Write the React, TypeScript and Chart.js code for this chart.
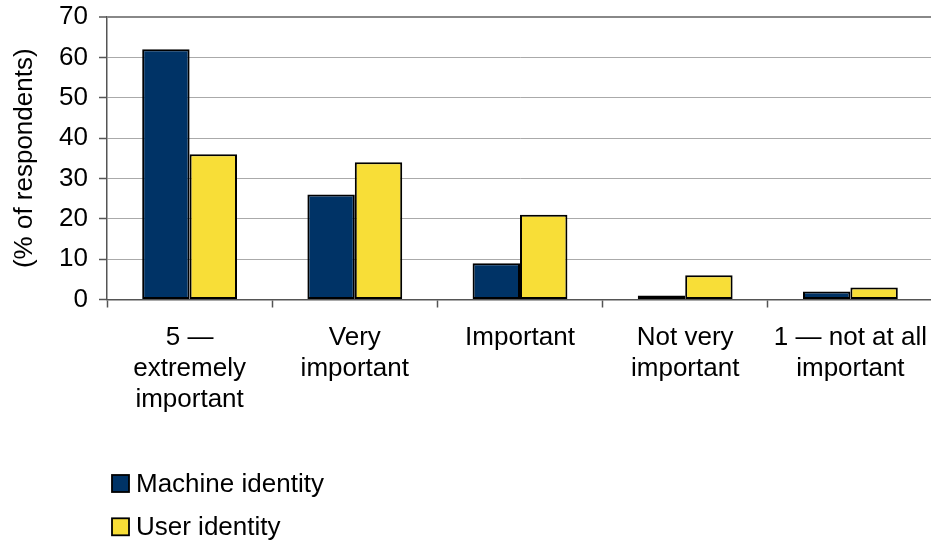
import React, { useEffect, useRef } from "react";
import { Chart, registerables } from "chart.js";

Chart.register(...registerables);

// Survey responses: importance rating, share of respondents (%)
const categories: string[][] = [
  ["5 \u2014", "extremely", "important"],
  ["Very", "important"],
  ["Important"],
  ["Not very", "important"],
  ["1 \u2014 not at all", "important"],
];
const machineIdentity = [62, 26, 9, 1, 2];
const userIdentity = [36, 34, 21, 6, 3];
const seriesNames = ["Machine identity", "User identity"];
const yTicks = { min: 0, max: 70, step: 10 };
const yTitle = "(% of respondents)";

const FONT = "'Liberation Sans', Arial, Helvetica, sans-serif";
const NAVY = "#003366";
const YELLOW = "#F8DE37";

// Stacked legend drawn under the plot, one series per row
const stackedLegend = {
  id: "stackedLegend",
  afterDraw(chart: Chart) {
    const { ctx } = chart;
    ctx.save();
    ctx.font = `26px ${FONT}`;
    ctx.textBaseline = "alphabetic";
    ctx.textAlign = "left";
    chart.data.datasets.forEach((ds: any, i: number) => {
      const boxX = 112;
      const boxY = 475 + i * 43.3;
      ctx.fillStyle = ds.backgroundColor;
      ctx.fillRect(boxX, boxY, 17, 17);
      ctx.strokeStyle = "#000";
      ctx.lineWidth = 1.8;
      ctx.strokeRect(boxX, boxY, 17, 17);
      ctx.fillStyle = "#000";
      ctx.fillText(ds.label, 136, boxY + 17);
    });
    ctx.restore();
  },
};

export default function App() {
  const canvasRef = useRef<HTMLCanvasElement | null>(null);

  useEffect(() => {
    if (!canvasRef.current) return;
    const chart = new Chart(canvasRef.current, {
      type: "bar",
      data: {
        labels: categories,
        datasets: [
          {
            label: seriesNames[0],
            data: machineIdentity,
            backgroundColor: NAVY,
            borderColor: "#000",
            borderWidth: 2,
            borderSkipped: false,
          },
          {
            label: seriesNames[1],
            data: userIdentity,
            backgroundColor: YELLOW,
            borderColor: "#000",
            borderWidth: 2,
            borderSkipped: false,
          },
        ],
      },
      options: {
        responsive: false,
        animation: false,
        devicePixelRatio: 1,
        categoryPercentage: 0.574,
        barPercentage: 1,
        layout: { padding: { left: 0, right: 3, top: 17, bottom: 125 } },
        plugins: {
          legend: { display: false },
          tooltip: { enabled: false },
        },
        scales: {
          x: {
            offset: true,
            afterFit: (scale: any) => {
              scale.height = 116.5;
              scale.paddingLeft = 0;
              scale.paddingRight = 0;
            },
            grid: {
              display: true,
              offset: true,
              drawOnChartArea: false,
              drawTicks: true,
              tickLength: 8,
              tickColor: "#555",
              tickWidth: 1.5,
            },
            border: { display: true, color: "#555", width: 1.5 },
            ticks: {
              color: "#000",
              font: { family: FONT, size: 26, lineHeight: 1.2 },
              padding: 14.5,
              maxRotation: 0,
              minRotation: 0,
              autoSkip: false,
            },
          },
          y: {
            min: yTicks.min,
            max: yTicks.max,
            afterFit: (scale: any) => {
              scale.width = 107;
              scale.paddingTop = 0;
              scale.paddingBottom = 0;
            },
            grid: {
              color: (c: any) => (c.tick && c.tick.value === yTicks.max ? "#888" : "#aaa"),
              lineWidth: (c: any) => (c.tick && c.tick.value === yTicks.max ? 2 : 1),
              drawTicks: true,
              tickLength: 8,
              tickColor: "#555",
              tickWidth: 1.5,
            },
            border: { display: true, color: "#555", width: 1.5 },
            ticks: {
              stepSize: yTicks.step,
              color: "#000",
              font: { family: FONT, size: 26, lineHeight: 1.2 },
              padding: 11,
            },
            title: {
              display: true,
              text: yTitle,
              color: "#000",
              font: { family: FONT, size: 26, lineHeight: 1.2 },
              padding: { top: 9, bottom: 0 },
            },
          },
        },
      },
      plugins: [stackedLegend],
    });
    return () => chart.destroy();
  }, []);

  return (
    <div
      style={{
        position: "fixed",
        left: 0,
        top: 0,
        width: 931,
        height: 541,
        overflow: "hidden",
        background: "#fff",
      }}
    >
      <canvas ref={canvasRef} width={936} height={541} />
    </div>
  );
}
